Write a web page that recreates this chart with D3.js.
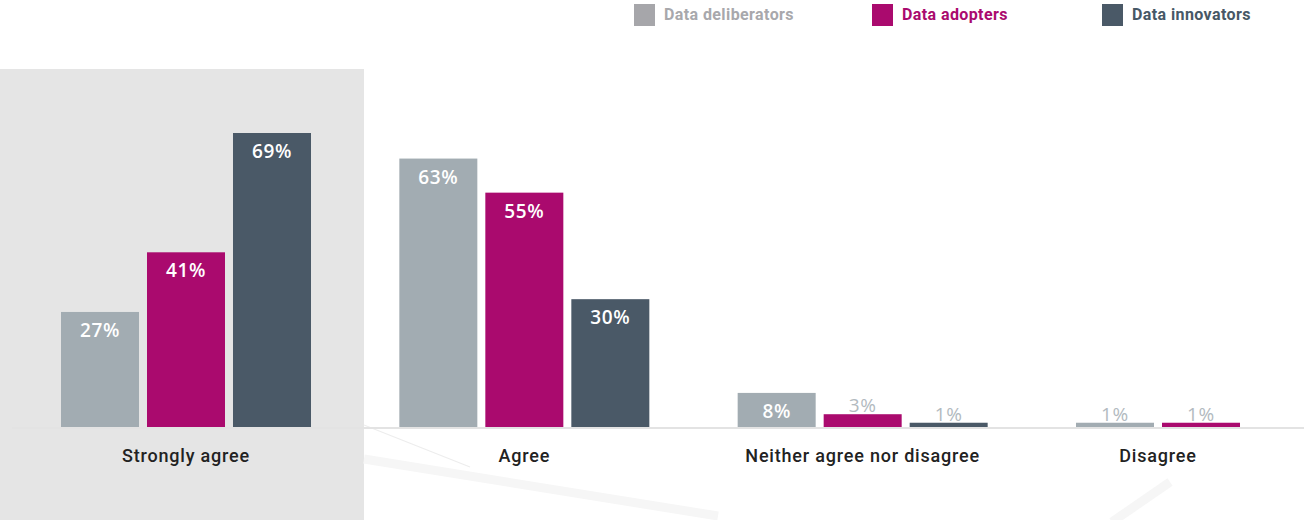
<!DOCTYPE html>
<html>
<head>
<meta charset="utf-8">
<script src="https://cdn.jsdelivr.net/npm/d3@7"></script>
<style>
  html, body { margin: 0; padding: 0; background: #ffffff; }
  svg { display: block; }
</style>
</head>
<body>
<svg id="chart" width="1304" height="520"></svg>
<script>
// Survey responses by data maturity segment (percent)
const categories = ["Strongly agree", "Agree", "Neither agree nor disagree", "Disagree"];
const seriesNames = ["Data deliberators", "Data adopters", "Data innovators"];
const deliberators = [27, 63, 8, 1];
const adopters = [41, 55, 3, 1];
const innovators = [69, 30, 1, null];
const seriesColors = ["#a2acb2", "#aa0a6e", "#4a5967"];
const legendSwatch = ["#a6a6aa", "#aa0a6e", "#4a5967"];
const legendText = ["#a8a8ac", "#aa0a6e", "#475866"];

const values = [deliberators, adopters, innovators];

const W = 1304, H = 520;
const baseY = 427;
const svg = d3.select("#chart");

// Scales
const x0 = d3.scaleBand().domain(categories).range([61, 1326]).paddingInner(0.2611);
const x1 = d3.scaleBand().domain(seriesNames).range([0, x0.bandwidth()]).paddingInner(0.093);
const y = d3.scaleLinear().domain([0, 69]).range([baseY, 133]);

// Highlighted first category panel
svg.append("rect")
  .attr("x", 0).attr("y", 69).attr("width", 364).attr("height", H - 69)
  .attr("fill", "#e5e5e5");

// Faint decorative strokes in the background
const deco = svg.append("g");
deco.append("line")
  .attr("x1", 364).attr("y1", 425).attr("x2", 470).attr("y2", 467)
  .attr("stroke", "#ededed").attr("stroke-width", 1.2);
deco.append("line")
  .attr("x1", 364).attr("y1", 459).attr("x2", 718).attr("y2", 516)
  .attr("stroke", "#f6f6f6").attr("stroke-width", 9);
deco.append("line")
  .attr("x1", 1170).attr("y1", 482).attr("x2", 1112).attr("y2", 522)
  .attr("stroke", "#f6f6f6").attr("stroke-width", 9);

// Baseline
svg.append("line")
  .attr("x1", 12).attr("x2", W).attr("y1", baseY + 1).attr("y2", baseY + 1)
  .attr("stroke", "#e3e3e3").attr("stroke-width", 2);

// Bars
const rows = [];
categories.forEach((c, ci) => {
  seriesNames.forEach((s, si) => {
    const v = values[si][ci];
    if (v != null) rows.push({ cat: c, series: s, si, value: v });
  });
});

const g = svg.append("g");
g.selectAll("rect.bar").data(rows).join("rect")
  .attr("class", "bar")
  .attr("x", d => x0(d.cat) + x1(d.series))
  .attr("y", d => y(d.value))
  .attr("width", x1.bandwidth())
  .attr("height", d => baseY - y(d.value))
  .attr("fill", d => seriesColors[d.si]);

// Value labels: inside tall bars, above short ones
const inside = d => (baseY - y(d.value)) > 25;
g.selectAll("text.val").data(rows).join("text")
  .attr("class", "val")
  .attr("x", d => x0(d.cat) + x1(d.series) + x1.bandwidth() / 2)
  .attr("y", d => inside(d) ? y(d.value) + 25 : y(d.value) - 2)
  .attr("text-anchor", "middle")
  .attr("font-family", "'Open Sans', 'DejaVu Sans', sans-serif")
  .attr("font-size", 19)
  .attr("font-weight", d => inside(d) ? 600 : 400)
  .attr("letter-spacing", 0.6)
  .attr("fill", d => inside(d) ? "#ffffff" : "#b2bac0")
  .text(d => d.value + "%");

// Category labels, centred on the bars present in each group
svg.selectAll("text.cat").data(categories).join("text")
  .attr("class", "cat")
  .attr("x", (c, ci) => {
    const present = seriesNames.filter((s, si) => values[si][ci] != null);
    const a = x0(c) + x1(present[0]);
    const b = x0(c) + x1(present[present.length - 1]) + x1.bandwidth();
    return (a + b) / 2;
  })
  .attr("y", 462)
  .attr("text-anchor", "middle")
  .attr("font-family", "Roboto, 'Noto Sans', sans-serif")
  .attr("font-size", 18)
  .attr("font-weight", 500)
  .attr("letter-spacing", 0.8)
  .attr("fill", "#222222")
  .text(d => d);

// Legend
const legendX = [634, 872, 1102];
const lg = svg.append("g");
seriesNames.forEach((s, i) => {
  lg.append("rect")
    .attr("x", legendX[i]).attr("y", 4).attr("width", 21).attr("height", 22)
    .attr("fill", legendSwatch[i]);
  lg.append("text")
    .attr("x", legendX[i] + 30).attr("y", 20)
    .attr("font-family", "Roboto, 'Noto Sans', sans-serif")
    .attr("font-size", 16)
    .attr("font-weight", 700)
    .attr("letter-spacing", 0.4)
    .attr("fill", legendText[i])
    .text(s);
});
</script>
</body>
</html>
